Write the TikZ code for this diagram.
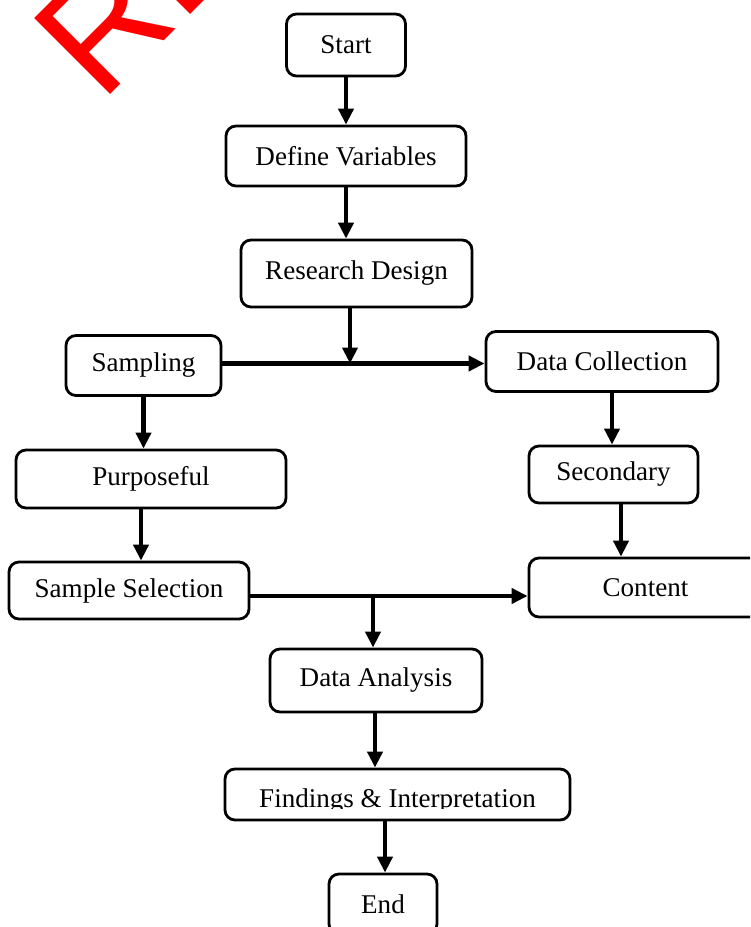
\documentclass[tikz,border=0pt]{standalone}
\usepackage{fontspec}
\setmainfont{Liberation Serif}
\newfontfamily\markfont{Liberation Sans}
\usetikzlibrary{arrows.meta}

\tikzset{
  stepbox/.style={draw, line width=1.6pt, rounded corners=0.2cm, align=center,
    inner sep=0pt, font=\fontsize{15.4}{18}\selectfont},
  flow/.style={line width=2.3pt, -{Triangle[length=0.32cm,width=0.3cm]}},
}

\begin{document}
\begin{tikzpicture}
\clip (0,0) rectangle (15,-18.54);
\fill[white] (0,0) rectangle (15,-18.54);

% red mark
\node[rotate=45, anchor=base west, inner sep=0pt, text=red,
  font=\markfont\fontsize{88.8}{100}\selectfont] (mark) at (2.03,-2.07) {RE};

% boxes
\node[stepbox, minimum width=2.38cm, minimum height=1.24cm] (start) at (6.92,-0.90) {Start};
\node[stepbox, minimum width=4.8cm, minimum height=1.2cm] (define) at (6.92,-3.12) {Define Variables};
\node[stepbox, minimum width=4.62cm, minimum height=1.34cm] (research) at (7.13,-5.47) {Research Design};
\node[stepbox, minimum width=3.1cm, minimum height=1.2cm] (sampling) at (2.87,-7.31) {Sampling};
\node[stepbox, minimum width=4.64cm, minimum height=1.2cm] (datacoll) at (12.04,-7.23) {Data Collection};
\node[stepbox, minimum width=5.4cm, minimum height=1.16cm] (purposeful) at (3.02,-9.58) {Purposeful};
\node[stepbox, minimum width=3.38cm, minimum height=1.14cm] (secondary) at (12.27,-9.49) {Secondary};
\node[stepbox, minimum width=4.8cm, minimum height=1.14cm] (sampleselect) at (2.58,-11.81) {Sample Selection};
\node[stepbox, minimum width=4.66cm, minimum height=1.18cm] (content) at (12.91,-11.75) {Content};
\node[stepbox, minimum width=4.24cm, minimum height=1.26cm] (analysis) at (7.52,-13.61) {Data Analysis};
\node[stepbox, minimum width=6.9cm, minimum height=1.02cm] (findings) at (7.95,-15.89) {};
\begin{scope}
  \clip (1,-16.17) rectangle (14,-15.4);
  \node[anchor=base, inner sep=0pt, font=\fontsize{15.4}{18}\selectfont] (findingstext)
    at (7.95,-16.15) {Findings \& Interpretation};
\end{scope}
\node[stepbox, minimum width=2.16cm, minimum height=1.2cm] (end) at (7.66,-18.08) {End};

% joins and arrow columns
\coordinate (j1) at (7.0,-7.27);
\coordinate (j2) at (7.46,-11.92);
\coordinate (c1) at (2.82,0);
\coordinate (c2) at (12.24,0);
\coordinate (c3) at (12.42,0);
\coordinate (c4) at (7.5,0);
\coordinate (c5) at (7.7,0);

% arrows
\draw[flow] (start) -- (define);
\draw[flow] (define.south) -- (define.south |- research.north);
\draw[flow] (research.south -| j1) -- (j1);
\draw[flow] (sampling.east |- j1) -- (datacoll.west |- j1);
\draw[flow] (sampling.south) -- (sampling.south |- purposeful.north);
\draw[flow] (purposeful.south -| c1) -- (sampleselect.north -| c1);
\draw[flow] (datacoll.south -| c2) -- (secondary.north -| c2);
\draw[flow] (secondary.south -| c3) -- (content.north -| c3);
\draw[flow] (sampleselect.east |- j2) -- (content.west |- j2);
\draw[flow] (j2) -- (analysis.north -| j2);
\draw[flow] (analysis.south -| c4) -- (findings.north -| c4);
\draw[flow] (findings.south -| c5) -- (end.north -| c5);
\end{tikzpicture}
\end{document}
